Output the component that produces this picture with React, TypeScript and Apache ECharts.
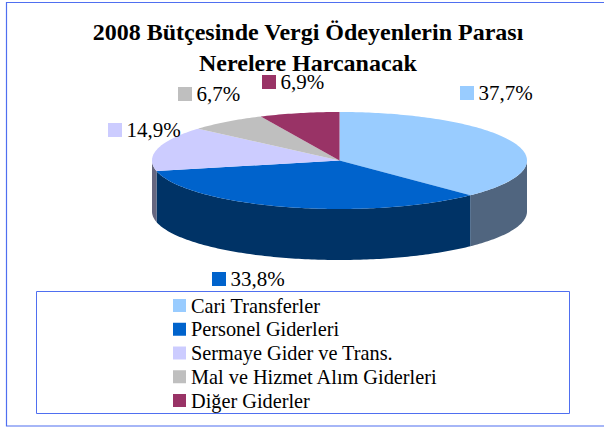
import React, { useEffect, useRef } from "react";
import * as echarts from "echarts";

const titleText = "2008 Bütçesinde Vergi Ödeyenlerin Parası\nNerelere Harcanacak";
const categories = [
  "Cari Transferler",
  "Personel Giderleri",
  "Sermaye Gider ve Trans.",
  "Mal ve Hizmet Alım Giderleri",
  "Diğer Giderler",
];
const shares = [37.7, 33.8, 14.9, 6.7, 6.9];
const topColors = ["#99ccff", "#0063cc", "#ccccff", "#bfbfbf", "#993366"];
const wallColors = ["#50657f", "#003366", "#66667f", "#5f5f5f", "#4c1933"];
// top-left corner of each value label's colour key
const labelKeys = [
  [460, 86],
  [212, 272],
  [108, 123],
  [178, 87],
  [262, 75],
];

const CX = 339.5;
const CY = 160.5;
const RX = 187.5;
const RY = 48.5;
const DEPTH = 51;
const LABEL_FONT = "Liberation Serif";

const point = (deg: number, dy = 0): number[] => {
  const a = (deg * Math.PI) / 180;
  return [CX + RX * Math.sin(a), CY - RY * Math.cos(a) + dy];
};

const arc = (from: number, to: number, dy = 0): number[][] => {
  const steps = Math.max(2, Math.ceil(Math.abs(to - from)));
  const out: number[][] = [];
  for (let i = 0; i <= steps; i++) out.push(point(from + ((to - from) * i) / steps, dy));
  return out;
};

const makeRenderItem = (index: number) => (_params: any, api: any) => {
  const startShare = api.value(0);
  const share = api.value(1);
  const from = (startShare / 100) * 360;
  const to = ((startShare + share) / 100) * 360;
  const children: any[] = [];
  const wallFrom = Math.max(from, 90);
  const wallTo = Math.min(to, 270);
  if (wallTo > wallFrom) {
    children.push({
      type: "polygon",
      shape: { points: [...arc(wallFrom, wallTo), ...arc(wallTo, wallFrom, DEPTH)] },
      style: { fill: wallColors[index] },
    });
  }
  children.push({
    type: "polygon",
    shape: { points: [[CX, CY], ...arc(from, to)] },
    style: { fill: topColors[index] },
  });
  const [kx, ky] = labelKeys[index];
  children.push({
    type: "rect",
    shape: { x: kx, y: ky, width: 14, height: 14 },
    style: { fill: topColors[index] },
  });
  children.push({
    type: "text",
    x: kx + 18.5,
    y: ky + 17,
    style: {
      text: share.toFixed(1).replace(".", ",") + "%",
      fill: "#000000",
      font: `21px "${LABEL_FONT}"`,
      textAlign: "left",
      textVerticalAlign: "bottom",
    },
  });
  return { type: "group", children };
};

export default function App() {
  const ref = useRef<HTMLDivElement>(null);
  useEffect(() => {
    const chart = echarts.init(ref.current!, undefined, { renderer: "svg" });
    let running = 0;
    const series = categories.map((name, i) => {
      const start = running;
      running += shares[i];
      return {
        type: "custom",
        name,
        coordinateSystem: "none",
        silent: true,
        itemStyle: { color: topColors[i] },
        renderItem: makeRenderItem(i),
        data: [[start, shares[i]]],
      };
    });
    chart.setOption({
      animation: false,
      backgroundColor: "#ffffff",
      title: {
        text: titleText,
        left: 308,
        top: 16,
        padding: 0,
        textAlign: "center",
        textStyle: {
          fontFamily: LABEL_FONT,
          fontWeight: "bold",
          fontSize: 24,
          lineHeight: 31,
          color: "#000000",
        },
      },
      legend: {
        orient: "vertical",
        left: 173,
        top: 295.5,
        padding: 0,
        icon: "rect",
        itemWidth: 13,
        itemHeight: 13,
        itemGap: 3.75,
        selectedMode: false,
        data: categories,
        textStyle: {
          fontFamily: LABEL_FONT,
          fontSize: 20.3,
          lineHeight: 20,
          color: "#000000",
        },
      },
      graphic: [
        {
          type: "rect",
          shape: { x: 6.5, y: 2.5, width: 640, height: 423.5 },
          style: { fill: "none", stroke: "#4f6ff0", lineWidth: 1.2 },
        },
        {
          type: "rect",
          shape: { x: 36.5, y: 291.5, width: 533, height: 122 },
          style: { fill: "none", stroke: "#4f6ff0", lineWidth: 1 },
        },
      ],
      series,
    });
    return () => chart.dispose();
  }, []);
  return <div ref={ref} style={{ position: "fixed", left: 0, top: 0, width: 604, height: 428 }} />;
}
